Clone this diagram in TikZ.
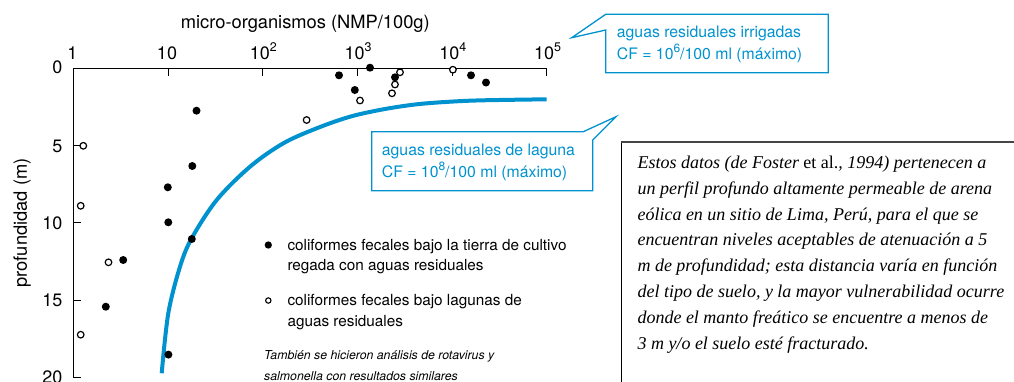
\documentclass[tikz,border=0pt]{standalone}
\usepackage{fontspec}
\setmainfont{TeX Gyre Heros}
\newfontfamily\boxfont{Liberation Serif}
\definecolor{cfblue}{RGB}{0,146,207}
\definecolor{boxgray}{RGB}{70,70,70}
\newcommand\supsm[1]{\raisebox{0.42em}{\fontsize{12}{12}\selectfont #1}}
\newcommand\supbig[1]{\raisebox{0.42em}{\fontsize{12.5}{12.5}\selectfont #1}}
\begin{document}
\begin{tikzpicture}[x=1pt,y=-1pt,
  axisline/.style={line width=1.2pt, black},
  tickline/.style={line width=1pt, black},
  fdot/.style={circle, fill=black, inner sep=0pt, minimum size=8pt},
  odot/.style={circle, draw=black, line width=1.2pt, fill=white, inner sep=0pt, minimum size=6.6pt},
  ticklab/.style={inner sep=0pt, font=\fontsize{18}{18}\selectfont},
  axlab/.style={inner sep=0pt, font=\fontsize{18.3}{18.3}\selectfont},
  legtext/.style={inner sep=0pt, anchor=base west, font=\fontsize{15.3}{15.3}\selectfont},
  notetext/.style={inner sep=0pt, anchor=base west, font=\fontsize{12.3}{12.3}\selectfont\itshape},
  callout/.style={draw=cfblue, line width=1.3pt, line join=miter},
  calltext/.style={inner sep=0pt, anchor=base west, text=cfblue, font=\fontsize{15.8}{15.8}\selectfont},
  boxtext/.style={inner sep=0pt, anchor=base west, font=\fontsize{18}{18}\selectfont\boxfont\itshape},
  curve/.style={draw=cfblue, line width=4pt}
]
\useasboundingbox (0,0) rectangle (1014,381);

% axes
\coordinate (O) at (73.3,68.3);
\coordinate (XE) at (546.8,68.3);
\coordinate (YE) at (73.3,377.3);
\draw[axisline] (XE) -- (O) -- (YE);
\foreach \n/\xx in {1/168,2/262.7,3/357.4,4/452.1,5/546.8}
  \draw[tickline] (\xx,68.3) -- (\xx,76.3);
\foreach \yy in {145.55,222.8,300.05,377.3}
  \draw[tickline] (73.3,\yy) -- (81.3,\yy);

% x tick labels
\node[ticklab, anchor=base] (xl0) at (72.5,59.5) {1};
\node[ticklab, anchor=base] (xl1) at (167,59.5) {10};
\node[ticklab, anchor=base] (xl2) at (263.4,59.5) {10\supbig{2}};
\node[ticklab, anchor=base] (xl3) at (358,59.5) {10\supbig{3}};
\node[ticklab, anchor=base] (xl4) at (452.8,59.5) {10\supbig{4}};
\node[ticklab, anchor=base] (xl5) at (547.5,59.5) {10\supbig{5}};
% y tick labels
\node[ticklab, anchor=east] (yl0) at (62.5,66.8) {0};
\node[ticklab, anchor=east] (yl5) at (62.5,146) {5};
\node[ticklab, anchor=east] (yl10) at (62.5,223) {10};
\node[ticklab, anchor=east] (yl15) at (62.5,300.3) {15};
\node[ticklab, anchor=east] (yl20) at (62.5,377.6) {20};

% axis titles
\node[axlab, anchor=base] (xtitle) at (305.3,28.5) {micro-organismos (NMP/100g)};
\node[axlab, anchor=base, rotate=90] (ytitle) at (27,223) {profundidad (m)};

% curve
\draw[curve] plot[smooth, tension=0.55] coordinates {
 (161.7,373.3) (168.3,313.3) (180,266.7) (191.7,238.3) (216.7,200)
 (250,166.7) (283.3,143.3) (316.7,128.3) (350,116.7) (383.3,109.3)
 (416.7,104.3) (450,101.7) (483,100.3) (546.7,99.3)};

% filled dots
\foreach \nm/\px/\py in {f1/370/67.7, f2/339/75.3, f3/395/77.3, f4/471/75.3,
  f5/486/82.5, f6/354.8/90, f7/196.5/110.7, f8/192.3/166, f9/167.8/187.3,
  f10/168.3/222.3, f11/191.8/239, f12/123.2/260, f13/105.8/306.7, f14/168.4/354.6}
  \node[fdot] (\nm) at (\px,\py) {};
% open dots
\foreach \nm/\px/\py in {o1/452.9/69.7, o2/400/72.3, o3/395/84.5, o4/392/93.3,
  o5/360/100.5, o6/306.6/120, o7/83.3/145.8, o8/80.7/205.8, o9/108.5/262.3, o10/80.7/334.7}
  \node[odot] (\nm) at (\px,\py) {};

% legend
\node[fdot, minimum size=7.3pt] (lg1) at (268.3,245) {};
\node[legtext] (lt1) at (287.3,250.7) {coliformes fecales bajo la tierra de cultivo};
\node[legtext] (lt2) at (287.3,270.7) {regada con aguas residuales};
\node[odot, minimum size=5.4pt, line width=1.1pt] (lg2) at (268.3,300.5) {};
\node[legtext] (lt3) at (287.3,305.7) {coliformes fecales bajo lagunas de};
\node[legtext] (lt4) at (287.3,326.3) {aguas residuales};
\node[notetext] (nt1) at (264,359.5) {También se hicieron análisis de rotavirus y};
\node[notetext] (nt2) at (264,380.5) {salmonella con resultados similares};

% callout 1
\coordinate (c1tip) at (571.7,37.7);
\draw[callout] (605.7,30) -- (c1tip) -- (605.7,14.3) -- (828.3,14.3) -- (828.3,72.8) -- (605.7,72.8) -- cycle;
\node[calltext] (ct1) at (616.7,37.5) {aguas residuales irrigadas};
\node[calltext] (ct2) at (616.7,59.5) {CF = 10\supsm{6}/100 ml (máximo)};

% callout 2
\coordinate (c2tip) at (616,116.7);
\draw[callout] (583.3,131.7) -- (c2tip) -- (592.7,140) -- (592.7,190.8) -- (371.7,190.8) -- (371.7,131.7) -- cycle;
\node[calltext] (ct3) at (381.7,155.2) {aguas residuales de laguna};
\node[calltext] (ct4) at (381.7,177) {CF = 10\supsm{8}/100 ml (máximo)};

% text box
\draw[line width=1.2pt, black] (621.7,382) -- (621.7,141.7);
\draw[line width=2.2pt, boxgray] (620.6,141.7) -- (1015,141.7);
\foreach \k/\txt in {0/{Estos datos (de Foster {\upshape et al.}, 1994) pertenecen a},
  1/{un perfil profundo altamente permeable de arena},
  2/{eólica en un sitio de Lima, Perú, para el que se},
  3/{encuentran niveles aceptables de atenuación a 5},
  4/{m de profundidad; esta distancia varía en función},
  5/{del tipo de suelo, y la mayor vulnerabilidad ocurre},
  6/{donde el manto freático se encuentre a menos de},
  7/{3 m y/o el suelo esté fracturado.}}
  \node[boxtext] (bt\k) at (637.3,168.3+25.86*\k) {\txt};
\end{tikzpicture}
\end{document}
